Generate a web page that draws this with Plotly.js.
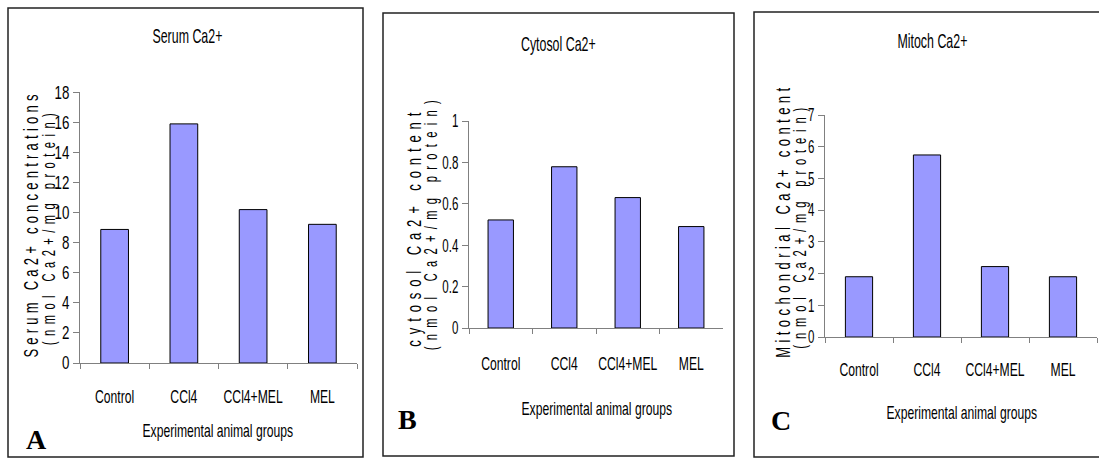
<!DOCTYPE html>
<html>
<head>
<meta charset="utf-8">
<script src="https://cdn.plot.ly/plotly-3.0.1.min.js"></script>
<style>
  html, body { margin: 0; padding: 0; background: #fff; }
  #chart { width: 1099px; height: 458px; }
</style>
</head>
<body>
<div id="chart"></div>
<script>
// ---- data ----
const categories = ['Control', 'CCl4', 'CCl4+MEL', 'MEL'];
const serumCa = [8.88, 15.9, 10.2, 9.22];
const cytosolCa = [0.522, 0.779, 0.63, 0.49];
const mitochCa = [1.9, 5.74, 2.22, 1.9];

const titles = ['Serum Ca2+', 'Cytosol Ca2+', 'Mitoch Ca2+'];
const yTitle1 = ['Serum Ca2+ concentrations', 'cytosol Ca2+ content', 'Mitochondrial Ca2+ content'];
const yTitle2 = ['(nmol Ca2+/mg protein)', '(nmol Ca2+/mg protein)', '(nmol Ca2+/mg protein)'];
const xTitle = 'Experimental animal groups';
const panelLetters = ['A', 'B', 'C'];

// ---- layout helpers ----
const W = 1099, H = 458;
const px = x => x / W;
const py = y => 1 - y / H;

const SANS = '"Liberation Sans", Arial, sans-serif';
const SERIF = '"Liberation Serif", "Times New Roman", serif';

// horizontal squeeze of the condensed lettering
const SCALE_YTICK = 0.74;
const SCALE_XTICK = 0.64;
const SCALE_TITLE = 0.62;
const SCALE_XTITLE = 0.64;
const SCALE_YTITLE = 0.62;

const panels = [
  { vals: serumCa, ax: [80, 357], ay: [363, 92.3], range: [0, 18], dtick: 2,
    box: [8, 8, 363, 457], title: [187, 36], xt: [218, 430], tickY: 395,
    yt1: [31, 226.5, 263], yt2: [49, 229, 232], letter: [36, 439] },
  { vals: cytosolCa, ax: [469, 723], ay: [328, 121], range: [0, 1], dtick: 0.2,
    box: [383, 13, 734, 456], title: [558, 44], xt: [597, 408], tickY: 362,
    yt1: [414, 230, 234], yt2: [431, 225, 250], letter: [407, 419] },
  { vals: mitochCa, ax: [825, 1097], ay: [337, 115], range: [0, 7], dtick: 1,
    box: [754, 12, 1110, 457], title: [932, 41], xt: [962, 412], tickY: 368,
    yt1: [782, 223, 270], yt2: [800, 228, 241], letter: [781, 420] }
];

const data = [];
const layout = {
  width: W, height: H,
  margin: { l: 0, r: 0, t: 0, b: 0 },
  paper_bgcolor: '#ffffff',
  plot_bgcolor: 'rgba(0,0,0,0)',
  showlegend: false,
  annotations: [],
  shapes: []
};

panels.forEach((p, i) => {
  const n = i === 0 ? '' : String(i + 1);
  data.push({
    type: 'bar',
    x: categories,
    y: p.vals,
    xaxis: 'x' + n,
    yaxis: 'y' + n,
    width: 0.4,
    marker: { color: '#9999FF', line: { color: '#000000', width: 1 } },
    hoverinfo: 'x+y'
  });
  layout['xaxis' + n] = {
    domain: [px(p.ax[0]), px(p.ax[1])],
    anchor: 'y' + n,
    type: 'category',
    range: [-0.5, 3.5],
    showline: true, linecolor: '#808080', linewidth: 1,
    ticks: 'outside', tickson: 'boundaries', ticklen: 5, tickcolor: '#808080',
    tickangle: 0, automargin: false,
    showgrid: false, zeroline: false,
    tickfont: { family: SANS, size: 19, color: '#000' },
    ticklabelstandoff: p.tickY - p.ay[0] - 16,
    fixedrange: true
  };
  layout['yaxis' + n] = {
    domain: [py(p.ay[0]), py(p.ay[1])],
    anchor: 'x' + n,
    range: p.range,
    dtick: p.dtick,
    tick0: 0,
    automargin: false,
    showline: true, linecolor: '#808080', linewidth: 1,
    ticks: 'outside', ticklen: 6, tickcolor: '#808080',
    showgrid: false, zeroline: false,
    tickfont: { family: SANS, size: 18, color: '#000' },
    fixedrange: true
  };
  layout.shapes.push({
    type: 'rect', xref: 'paper', yref: 'paper',
    x0: px(p.box[0]), x1: px(p.box[2]), y0: py(p.box[3]), y1: py(p.box[1]),
    line: { color: '#222222', width: 1.5 }, fillcolor: 'rgba(0,0,0,0)', layer: 'below'
  });
  const ann = (text, pos, font, extra) => Object.assign({
    text: text, xref: 'paper', yref: 'paper', x: px(pos[0]), y: py(pos[1]),
    xanchor: 'center', yanchor: 'middle', showarrow: false, font: font
  }, extra || {});
  layout.annotations.push(ann(titles[i], p.title, { family: SANS, size: 20, color: '#000' }));
  layout.annotations.push(ann(xTitle, p.xt, { family: SANS, size: 19, color: '#000' }));
  layout.annotations.push(ann(yTitle1[i], p.yt1, { family: SANS, size: 21, color: '#000' }, { textangle: -90 }));
  layout.annotations.push(ann(yTitle2[i], p.yt2, { family: SANS, size: 18, color: '#000' }, { textangle: -90 }));
  layout.annotations.push(ann('<b>' + panelLetters[i] + '</b>', p.letter, { family: SERIF, size: 28, color: '#000' }));
});

Plotly.newPlot('chart', data, layout, { staticPlot: true, displayModeBar: false }).then(gd => {
  const lineTargets = [];
  panels.forEach((p, i) => {
    lineTargets.push([yTitle1[i], p.yt1[2]]);
    lineTargets.push([yTitle2[i], p.yt2[2]]);
  });
  const used = new Set();
  gd.querySelectorAll('svg text').forEach(t => {
    const fam = (t.style.fontFamily || '');
    if (fam.indexOf('Liberation Sans') < 0) return;
    const content = t.textContent;
    const natural = t.getComputedTextLength();
    if (!natural) return;
    const cls = (t.getAttribute('class') || '') + ' ' + ((t.parentNode && t.parentNode.getAttribute && t.parentNode.getAttribute('class')) || '');
    let target = null;
    for (let k = 0; k < lineTargets.length; k++) {
      if (!used.has(k) && lineTargets[k][0] === content) { target = lineTargets[k][1]; used.add(k); break; }
    }
    let s;
    if (target !== null) {
      s = SCALE_YTITLE;
      t.setAttribute('textLength', (target / s).toFixed(1));
      t.setAttribute('lengthAdjust', 'spacing');
    } else if (cls.indexOf('ytick') >= 0) s = SCALE_YTICK;
    else if (cls.indexOf('xtick') >= 0) s = SCALE_XTICK;
    else if (titles.indexOf(content) >= 0) s = SCALE_TITLE;
    else if (content === xTitle) s = SCALE_XTITLE;
    else s = SCALE_XTICK;
    const X = parseFloat(t.getAttribute('x')) || 0;
    const prev = t.getAttribute('transform') || '';
    t.setAttribute('transform', (prev + ' translate(' + X + ',0) scale(' + s + ',1) translate(' + (-X) + ',0)').trim());
  });
});
</script>
</body>
</html>
